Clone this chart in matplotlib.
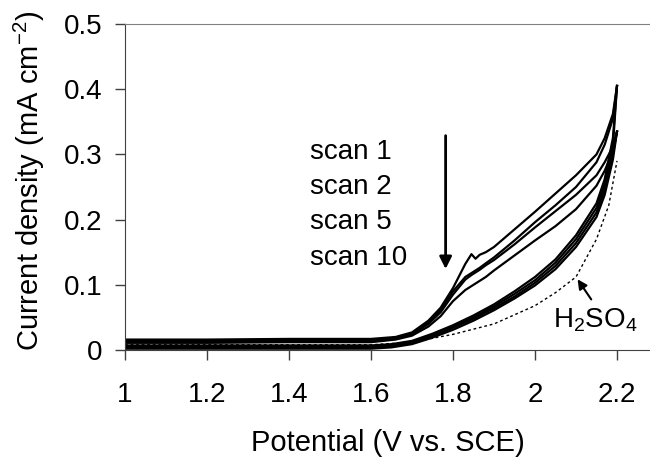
import matplotlib
matplotlib.use("Agg")
from matplotlib import pyplot as plt

plt.rcParams['font.family'] = ['Liberation Sans', 'DejaVu Sans']
plt.rcParams['mathtext.fontset'] = 'custom'
plt.rcParams['mathtext.rm'] = 'Liberation Sans'
plt.rcParams['mathtext.it'] = 'Liberation Sans'
plt.rcParams['mathtext.default'] = 'regular'

# forward sweep potentials (V vs. SCE)
E_fwd = [1.0, 1.2, 1.4, 1.6, 1.66, 1.7, 1.74, 1.77, 1.8, 1.83, 1.845, 1.855,
         1.865, 1.88, 1.9, 1.95, 2.0, 2.05, 2.1, 2.15, 2.17, 2.19, 2.2]
scan1_fwd = [0.016, 0.016, 0.017, 0.017, 0.020, 0.027, 0.045, 0.065, 0.095, 0.132, 0.147, 0.140,
             0.146, 0.150, 0.158, 0.185, 0.212, 0.240, 0.268, 0.300, 0.325, 0.362, 0.405]
scan2_fwd = [0.014, 0.014, 0.015, 0.015, 0.018, 0.025, 0.042, 0.062, 0.090, 0.112, 0.118, 0.122,
             0.126, 0.133, 0.142, 0.168, 0.196, 0.222, 0.250, 0.288, 0.315, 0.355, 0.405]
scan5_fwd = [0.012, 0.012, 0.013, 0.013, 0.017, 0.024, 0.040, 0.058, 0.085, 0.108, 0.115, 0.119,
             0.123, 0.130, 0.138, 0.162, 0.188, 0.213, 0.238, 0.268, 0.288, 0.312, 0.335]
scan10_fwd = [0.011, 0.011, 0.012, 0.012, 0.016, 0.022, 0.036, 0.052, 0.075, 0.092, 0.098, 0.102,
              0.106, 0.112, 0.122, 0.145, 0.168, 0.190, 0.216, 0.252, 0.275, 0.305, 0.335]

# reverse sweep potentials
E_rev = [2.2, 2.19, 2.17, 2.15, 2.1, 2.05, 2.0, 1.95, 1.9, 1.85, 1.8, 1.75, 1.7, 1.65, 1.6, 1.4, 1.2, 1.0]
scan1_rev = [0.405, 0.325, 0.262, 0.225, 0.176, 0.139, 0.112, 0.090, 0.070, 0.053, 0.038, 0.025,
             0.014, 0.009, 0.007, 0.007, 0.007, 0.007]
scan2_rev = [0.405, 0.312, 0.254, 0.218, 0.170, 0.134, 0.107, 0.086, 0.067, 0.050, 0.036, 0.023,
             0.012, 0.007, 0.005, 0.005, 0.005, 0.005]
scan5_rev = [0.335, 0.300, 0.246, 0.211, 0.164, 0.129, 0.103, 0.082, 0.064, 0.048, 0.034, 0.021,
             0.011, 0.006, 0.004, 0.004, 0.004, 0.004]
scan10_rev = [0.335, 0.292, 0.238, 0.204, 0.158, 0.124, 0.099, 0.079, 0.061, 0.045, 0.031, 0.019,
              0.009, 0.004, 0.002, 0.002, 0.002, 0.002]

# blank electrolyte
E_acid = [1.0, 1.2, 1.4, 1.6, 1.7, 1.8, 1.9, 2.0, 2.05, 2.1, 2.15, 2.18, 2.2]
acid_j = [0.008, 0.008, 0.008, 0.008, 0.012, 0.024, 0.040, 0.068, 0.088, 0.112, 0.170, 0.222, 0.290]

scan_labels = ["scan 1", "scan 2", "scan 5", "scan 10"]
scan_label_y = [0.293, 0.240, 0.186, 0.130]
x_ticks = [1, 1.2, 1.4, 1.6, 1.8, 2, 2.2]
x_ticklabels = ["1", "1.2", "1.4", "1.6", "1.8", "2", "2.2"]
y_ticks = [0, 0.1, 0.2, 0.3, 0.4, 0.5]
y_ticklabels = ["0", "0.1", "0.2", "0.3", "0.4", "0.5"]

fig = plt.figure(figsize=(6.5, 4.59), dpi=100)
ax = fig.add_axes([125 / 650, 109 / 459, 525 / 650, 326 / 459])

for fwd, rev in [(scan1_fwd, scan1_rev), (scan2_fwd, scan2_rev),
                 (scan5_fwd, scan5_rev), (scan10_fwd, scan10_rev)]:
    ax.plot(E_fwd, fwd, color='black', lw=1.6)
    ax.plot(E_rev, rev, color='black', lw=1.6)
ax.plot(E_acid, acid_j, color='black', lw=1.0, ls=(0, (2, 2)))

ax.set_xlim(1, 1 + 525 / 410)
ax.set_ylim(0, 0.5)
ax.set_xticks(x_ticks)
ax.set_xticklabels(x_ticklabels)
ax.set_yticks(y_ticks)
ax.set_yticklabels(y_ticklabels)
ax.tick_params(direction='out', length=7, width=1, color='#404040', labelsize=20)
ax.tick_params(axis='x', pad=16)
ax.tick_params(axis='y', pad=9)

ax.spines['right'].set_visible(False)
ax.spines['top'].set_color('#808080')
ax.spines['left'].set_color('#404040')
ax.spines['bottom'].set_color('#404040')

fig.text(387.5 / 650, 8 / 459, "Potential (V vs. SCE)", ha='center', va='baseline', fontsize=21)
fig.text(29 / 650, 1 - 181 / 459, "Current density (mA cm$^{-2}$)", rotation=90,
         ha='center', va='center', fontsize=21)

for lab, y in zip(scan_labels, scan_label_y):
    ax.text(1.451, y, lab, fontsize=20, ha='left', va='baseline')

ax.annotate("", xy=(1.782, 0.120), xytext=(1.782, 0.333),
            arrowprops=dict(arrowstyle='-|>', color='black', lw=2, mutation_scale=18))

ax.text(2.044, 0.035, "H$_2$SO$_4$", fontsize=20, ha='left', va='baseline')
ax.annotate("", xy=(2.100, 0.112), xytext=(2.141, 0.074),
            arrowprops=dict(arrowstyle='-|>', color='black', lw=1.5, mutation_scale=14))

fig.savefig("out.png", dpi=100)
